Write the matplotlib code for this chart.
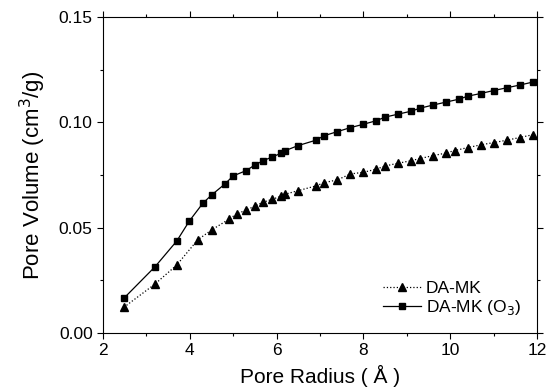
import matplotlib.pyplot as plt
from matplotlib.ticker import MultipleLocator, FormatStrFormatter

plt.rcParams['font.family'] = ['Liberation Sans', 'DejaVu Sans']

# DA-MK (triangles, dotted)
r_mk = [2.48, 3.2, 3.7, 4.18, 4.5, 4.9, 5.09, 5.3, 5.5, 5.69, 5.9, 6.1, 6.2, 6.5, 6.9, 7.1, 7.4,
        7.7, 8.0, 8.3, 8.5, 8.8, 9.1, 9.3, 9.6, 9.9, 10.1, 10.4, 10.7, 11.0, 11.3, 11.6, 11.9]
v_mk = [0.0122, 0.0233, 0.0323, 0.0442, 0.0489, 0.0540, 0.0567, 0.0583, 0.0603, 0.0621, 0.0635,
        0.0649, 0.0659, 0.0676, 0.0698, 0.0714, 0.0727, 0.0755, 0.0763, 0.0778, 0.0793, 0.0806,
        0.0818, 0.0828, 0.0842, 0.0854, 0.0866, 0.0880, 0.0893, 0.0904, 0.0915, 0.0928, 0.0941]

# DA-MK (O3) (squares, solid)
r_o3 = [2.48, 3.2, 3.7, 3.99, 4.3, 4.5, 4.8, 5.0, 5.3, 5.5, 5.69, 5.9, 6.1, 6.2, 6.5, 6.9, 7.1,
        7.4, 7.7, 8.0, 8.3, 8.5, 8.8, 9.1, 9.3, 9.6, 9.9, 10.2, 10.4, 10.7, 11.0, 11.3, 11.6, 11.9]
v_o3 = [0.0165, 0.0315, 0.0437, 0.0532, 0.0616, 0.0655, 0.0706, 0.0746, 0.0771, 0.0798, 0.0818,
        0.0836, 0.0853, 0.0866, 0.0890, 0.0915, 0.0937, 0.0956, 0.0975, 0.0991, 0.1008, 0.1025,
        0.1039, 0.1053, 0.1067, 0.1082, 0.1096, 0.1110, 0.1124, 0.1137, 0.1151, 0.1164, 0.1177,
        0.1191]

fig = plt.figure(figsize=(5.57, 3.92), dpi=100)
ax = fig.add_axes([0.185, 0.1505, 0.779, 0.806])

ax.plot(r_mk, v_mk, color='black', linestyle=':', linewidth=0.9,
        marker='^', markersize=6, label='DA-MK')
ax.plot(r_o3, v_o3, color='black', linestyle='-', linewidth=0.9,
        marker='s', markersize=5, label='DA-MK (O$_3$)')

ax.set_xlim(2, 12)
ax.set_ylim(0, 0.15)
ax.xaxis.set_major_locator(MultipleLocator(2))
ax.xaxis.set_minor_locator(MultipleLocator(1))
ax.yaxis.set_major_locator(MultipleLocator(0.05))
ax.yaxis.set_minor_locator(MultipleLocator(0.025))
ax.yaxis.set_major_formatter(FormatStrFormatter('%.2f'))
ax.tick_params(which='both', direction='out', top=True, right=True,
               labeltop=False, labelright=False, labelsize=12.5)
ax.tick_params(which='major', length=4, width=0.8)
ax.tick_params(which='minor', length=2.5, width=0.8)

ax.set_xlabel('Pore Radius ( Å )', fontsize=15, labelpad=5)
ax.set_ylabel('Pore Volume (cm$^3$/g)', fontsize=16, labelpad=8)

ax.legend(loc='lower right', frameon=False, fontsize=12.5, handlelength=2.2,
          handletextpad=0.3, borderaxespad=0.5, labelspacing=0.15)

plt.savefig('out.png', dpi=100)
